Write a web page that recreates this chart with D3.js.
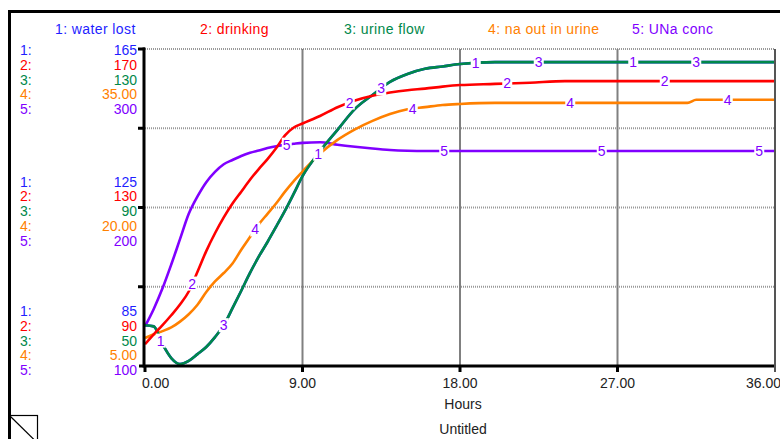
<!DOCTYPE html>
<html>
<head>
<meta charset="utf-8">
<script src="https://cdn.jsdelivr.net/npm/d3@7"></script>
<style>
  body { margin: 0; background: #fff; }
  svg text { font-family: "Liberation Sans", Arial, sans-serif; }
</style>
</head>
<body>
<svg id="chart"></svg>
<script>
// hours on the time axis
var hours = [0, 0.5, 1, 1.5, 2, 2.5, 3, 3.5, 4, 4.5, 5, 5.5, 6, 6.5, 7, 7.5, 8, 8.5, 9,
  10, 11, 12, 13, 14, 15, 16, 17, 18, 20, 22, 24, 26, 28, 30, 31, 31.5, 32, 34, 36];

var waterLost = [95.3, 95, 90.5, 87, 85.5, 86.3, 88, 89.8, 92.3, 95.3, 99.6, 104, 108.5, 112.6, 116.3, 120.2, 124.2, 128.5, 132.9,
  139.2, 144.6, 149.9, 153.4, 156.7, 158.7, 160, 160.6, 161.2, 161.7, 161.7, 161.7, 161.7, 161.7, 161.7, 161.7, 161.7, 161.7, 161.7, 161.7];
var drinking = [95.5, 98, 100.3, 102.8, 105.5, 108.8, 113.8, 119, 123.5, 127.5, 131, 134, 137, 139.7, 142.2, 145, 148.2, 150.2, 151.2,
  153.1, 155.3, 157, 158.2, 159, 159.6, 160, 160.5, 160.9, 161.2, 161.5, 161.9, 161.9, 161.9, 161.9, 161.9, 161.9, 161.9, 161.9, 161.9];
var urineFlow = [60.3, 60, 55.5, 52, 50.5, 51.3, 53, 54.8, 57.3, 60.3, 64.6, 69, 73.5, 77.6, 81.3, 85.2, 89.2, 93.5, 97.9,
  104.2, 109.6, 114.9, 118.4, 121.7, 123.7, 125, 125.6, 126.2, 126.7, 126.7, 126.7, 126.7, 126.7, 126.7, 126.7, 126.7, 126.7, 126.7, 126.7];
var naOutInUrine = [7.65, 8.0, 8.3, 8.65, 9.2, 9.9, 10.8, 12.0, 13.0, 13.8, 14.7, 16, 17.2, 18.4, 19.4, 20.4, 21.5, 22.5, 23.4,
  25.1, 26.4, 27.4, 28.2, 28.85, 29.3, 29.5, 29.7, 29.8, 29.9, 29.9, 29.9, 29.9, 29.9, 29.9, 29.9, 30.2, 30.2, 30.2, 30.2];
var unaConc = [125, 136, 149, 164, 180, 196, 207, 216, 222.5, 227.3, 230, 232.5, 234.5, 236, 237.5, 238.7, 239.5, 240.2, 240.8,
  241.2, 239.6, 238.3, 237.2, 236.3, 235.8, 235.6, 235.6, 235.6, 235.6, 235.6, 235.6, 235.6, 235.6, 235.6, 235.6, 235.6, 235.6, 235.6, 235.6];

var seriesNames = ["water lost", "drinking", "urine flow", "na out in urine", "UNa conc"];
var seriesColors = ["#1f1fff", "#ff0000", "#00884a", "#ff8000", "#8000ff"];
var scaleMin = [85, 90, 50, 5, 100];
var scaleMax = [165, 170, 130, 35, 300];
var scaleDecimals = [0, 0, 0, 2, 0];
var xTicks = [0, 9, 18, 27, 36];
var labelStart = [0.9, 2.7, 4.5, 6.3, 8.1];

var allSeries = [waterLost, drinking, urineFlow, naOutInUrine, unaConc];

var W = 780, H = 439;
var pLeft = 145, pRight = 775, pTop = 49, pBottom = 366;

var svg = d3.select("#chart").attr("width", W).attr("height", H);

// outer frame
svg.append("rect").attr("x", 9.5).attr("y", 11.5).attr("width", 900).attr("height", 600)
  .attr("fill", "none").attr("stroke", "#000").attr("stroke-width", 3);

var x = d3.scaleLinear().domain([0, 36]).range([pLeft, pRight]);
var yScales = allSeries.map(function (s, i) {
  return d3.scaleLinear().domain([scaleMin[i], scaleMax[i]]).range([pBottom, pTop]);
});
var yGrid = d3.scaleLinear().domain([0, 4]).range([pBottom, pTop]);

// horizontal dotted grid
svg.append("g").selectAll("line").data([1, 2, 3, 4]).enter().append("line")
  .attr("x1", pLeft).attr("x2", pRight)
  .attr("y1", function (d) { return yGrid(d); }).attr("y2", function (d) { return yGrid(d); })
  .attr("stroke", "#999").attr("stroke-width", 2).attr("stroke-dasharray", "1,1");

// vertical grid
svg.append("g").selectAll("line").data(xTicks.slice(1)).enter().append("line")
  .attr("x1", function (d) { return x(d); }).attr("x2", function (d) { return x(d); })
  .attr("y1", pTop).attr("y2", pBottom)
  .attr("stroke", "#808080").attr("stroke-width", 2);

// curves
var plot = svg.append("g");
plot.append("clipPath").attr("id", "clip").append("rect")
  .attr("x", pLeft).attr("y", pTop - 2).attr("width", pRight - pLeft).attr("height", pBottom - pTop + 4);

var drawOrder = [0, 4, 3, 2, 1];
drawOrder.forEach(function (i) {
  var line = d3.line()
    .x(function (d, j) { return x(hours[j]); })
    .y(function (d) { return yScales[i](d); })
    .curve(d3.curveMonotoneX);
  plot.append("path").datum(allSeries[i])
    .attr("clip-path", "url(#clip)")
    .attr("d", line)
    .attr("fill", "none")
    .attr("stroke", seriesColors[i])
    .attr("stroke-width", 2.6);
});

// number labels on the curves
function valueAt(s, t) {
  var j = d3.bisectRight(hours, t) - 1;
  if (j >= hours.length - 1) return s[hours.length - 1];
  var f = (t - hours[j]) / (hours[j + 1] - hours[j]);
  return s[j] + f * (s[j + 1] - s[j]);
}
allSeries.forEach(function (s, i) {
  for (var t = labelStart[i]; t < 36; t += 9) {
    var px = x(t), py = yScales[i](valueAt(s, t));
    svg.append("rect").attr("x", px - 5).attr("y", py - 7).attr("width", 10).attr("height", 14).attr("fill", "#fff");
    svg.append("text").attr("x", px).attr("y", py + 5).attr("text-anchor", "middle")
      .attr("font-size", 14).attr("fill", "#8000ff").text(i + 1);
  }
});

// axes
svg.append("line").attr("x1", pLeft - 1).attr("x2", pLeft - 1).attr("y1", pTop - 1.5).attr("y2", pBottom + 1.5)
  .attr("stroke", "#000").attr("stroke-width", 3);
svg.append("line").attr("x1", pLeft - 6).attr("x2", pRight).attr("y1", pBottom).attr("y2", pBottom)
  .attr("stroke", "#000").attr("stroke-width", 3);
svg.append("line").attr("x1", pRight).attr("x2", pRight).attr("y1", pTop).attr("y2", pBottom + 6)
  .attr("stroke", "#555").attr("stroke-width", 2);
svg.append("g").selectAll("line").data([1, 2, 3, 4]).enter().append("line")
  .attr("x1", pLeft - 7).attr("x2", pLeft)
  .attr("y1", function (d) { return yGrid(d); }).attr("y2", function (d) { return yGrid(d); })
  .attr("stroke", "#000").attr("stroke-width", 3);
svg.append("g").selectAll("line").data(xTicks.slice(0, 4)).enter().append("line")
  .attr("x1", function (d) { return x(d); }).attr("x2", function (d) { return x(d); })
  .attr("y1", pBottom).attr("y2", pBottom + 6)
  .attr("stroke", "#000").attr("stroke-width", 3);

// x tick labels
svg.append("g").selectAll("text").data(xTicks).enter().append("text")
  .attr("x", function (d, i) { return i === 0 ? x(d) - 3 : (i === xTicks.length - 1 ? x(d) + 6 : x(d)); })
  .attr("y", 388)
  .attr("text-anchor", function (d, i) { return i === 0 ? "start" : (i === xTicks.length - 1 ? "end" : "middle"); })
  .attr("font-size", 14).attr("fill", "#222")
  .text(function (d) { return d3.format(".2f")(d); });

svg.append("text").attr("x", 463).attr("y", 409).attr("text-anchor", "middle")
  .attr("font-size", 14).attr("fill", "#222").text("Hours");
svg.append("text").attr("x", 463).attr("y", 434).attr("text-anchor", "middle")
  .attr("font-size", 14).attr("fill", "#222").text("Untitled");

// legend row
var legendX = [55, 200, 344, 488, 632];
seriesNames.forEach(function (n, i) {
  svg.append("text").attr("x", legendX[i]).attr("y", 34)
    .attr("font-size", 14).attr("letter-spacing", 0.4).attr("fill", seriesColors[i])
    .text((i + 1) + ": " + n);
});

// left scale labels (top, middle, bottom)
var rowH = 14.75;
var groups = [
  { base: pTop + 6, vals: scaleMax },
  { base: (pTop + pBottom) / 2 + 8.5 - 2 * rowH, vals: scaleMax.map(function (v, i) { return (v + scaleMin[i]) / 2; }) },
  { base: pBottom + 9 - 4 * rowH, vals: scaleMin }
];
groups.forEach(function (g) {
  g.vals.forEach(function (v, i) {
    var yy = g.base + i * rowH;
    svg.append("text").attr("x", 20).attr("y", yy).attr("font-size", 14)
      .attr("fill", seriesColors[i]).text((i + 1) + ":");
    svg.append("text").attr("x", 137).attr("y", yy).attr("font-size", 14).attr("text-anchor", "end")
      .attr("fill", seriesColors[i]).text(d3.format("." + scaleDecimals[i] + "f")(v));
  });
});

// corner icon
svg.append("rect").attr("x", 9.5).attr("y", 415.5).attr("width", 28).attr("height", 30)
  .attr("fill", "none").attr("stroke", "#000").attr("stroke-width", 1.2);
svg.append("line").attr("x1", 9.5).attr("y1", 415.5).attr("x2", 37.5).attr("y2", 443)
  .attr("stroke", "#000").attr("stroke-width", 1.2);
</script>
</body>
</html>
